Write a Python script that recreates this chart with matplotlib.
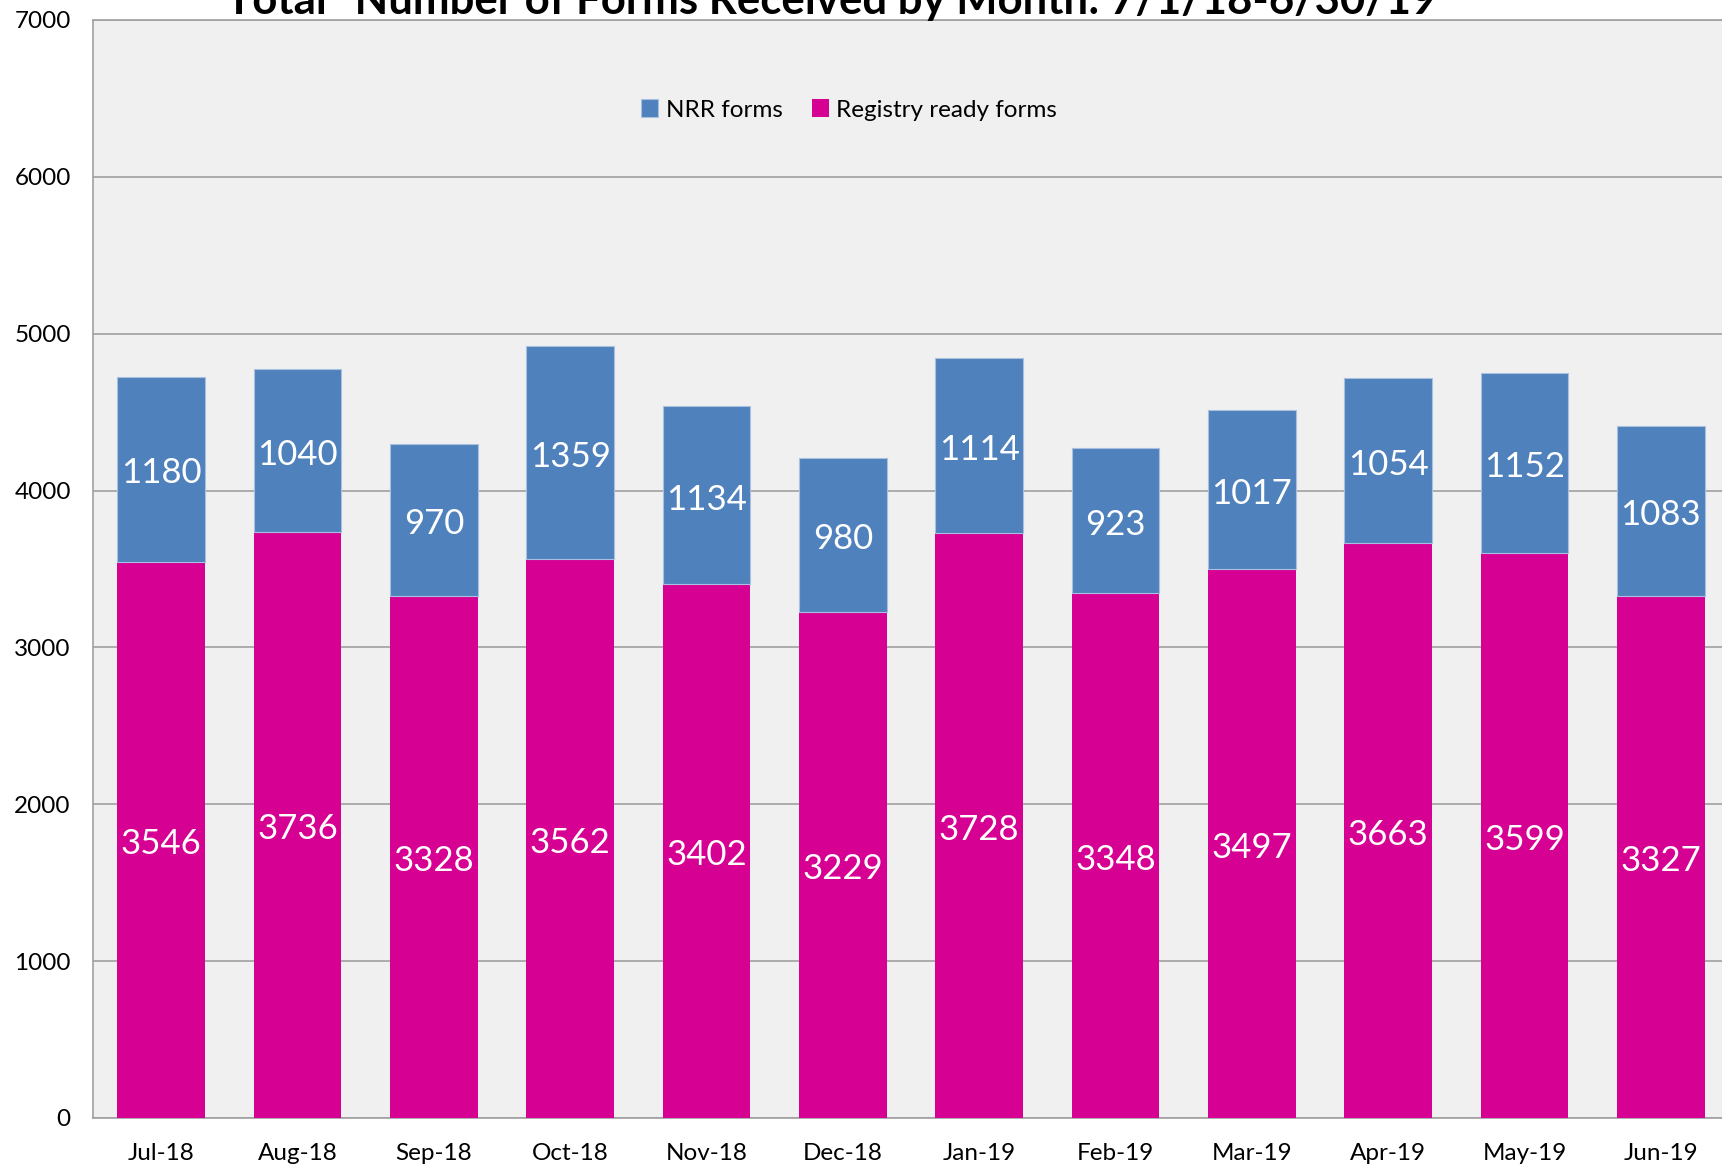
import matplotlib
matplotlib.use('Agg')
import numpy as np
import matplotlib.pyplot as plt

# monthly form counts
months = ['Jul-18', 'Aug-18', 'Sep-18', 'Oct-18', 'Nov-18', 'Dec-18',
          'Jan-19', 'Feb-19', 'Mar-19', 'Apr-19', 'May-19', 'Jun-19']
registry_ready = [3546, 3736, 3328, 3562, 3402, 3229, 3728, 3348, 3497, 3663, 3599, 3327]
nrr = [1180, 1040, 970, 1359, 1134, 980, 1114, 923, 1017, 1054, 1152, 1083]

blue = '#4f81bd'
pink = '#d60093'

plt.rcParams['font.family'] = ['Lato', 'DejaVu Sans']

fig = plt.figure(figsize=(17.22, 11.68), dpi=100)
ax = fig.add_axes([93/1722, 50/1168, (1729-93)/1722, (1118-20)/1168])
ax.set_facecolor('#f0f0f0')

x = np.arange(len(months))
bars_r = ax.bar(x, registry_ready, width=0.645, color=pink, label='Registry ready forms', zorder=3)
bars_n = ax.bar(x, nrr, width=0.645, bottom=registry_ready, color=blue,
                edgecolor='#a9c0e0', linewidth=0.8, label='NRR forms', zorder=3)

for xi, r, n in zip(x, registry_ready, nrr):
    ax.annotate(str(r), (xi, r/2), xytext=(0, -3), textcoords='offset points',
                ha='center', va='center', color='white', fontsize=25, zorder=4)
    ax.annotate(str(n), (xi, r + n/2), xytext=(0, -3), textcoords='offset points',
                ha='center', va='center', color='white', fontsize=25, zorder=4)

ax.set_xlim(-0.5, len(months) - 0.5)
ax.set_ylim(0, 7000)
ax.set_yticks(range(0, 7001, 1000))
ax.yaxis.grid(True, color='#a0a0a0', linewidth=1.2, zorder=0)
ax.set_xticks(x)
ax.set_xticklabels(months, fontsize=17.5)
ax.tick_params(axis='y', labelsize=17.5, length=0, pad=16)
ax.tick_params(axis='x', length=0, pad=18)
for s in ax.spines.values():
    s.set_color('#a0a0a0')
    s.set_linewidth(1.2)

ax.legend(handles=[bars_n, bars_r], loc='center', bbox_to_anchor=(849/1722, 1 - 110/1168),
          bbox_transform=fig.transFigure, ncol=2, frameon=False, fontsize=17.5,
          handlelength=0.7, handleheight=0.7, handletextpad=0.3, columnspacing=1.2)

fig.text(831/1722, 1 - 14/1168, 'Total "Number of Forms Received by Month: 7/1/18-6/30/19',
         ha='center', va='baseline', fontsize=31.5, fontweight='bold')

fig.savefig('out.png', dpi=100)
